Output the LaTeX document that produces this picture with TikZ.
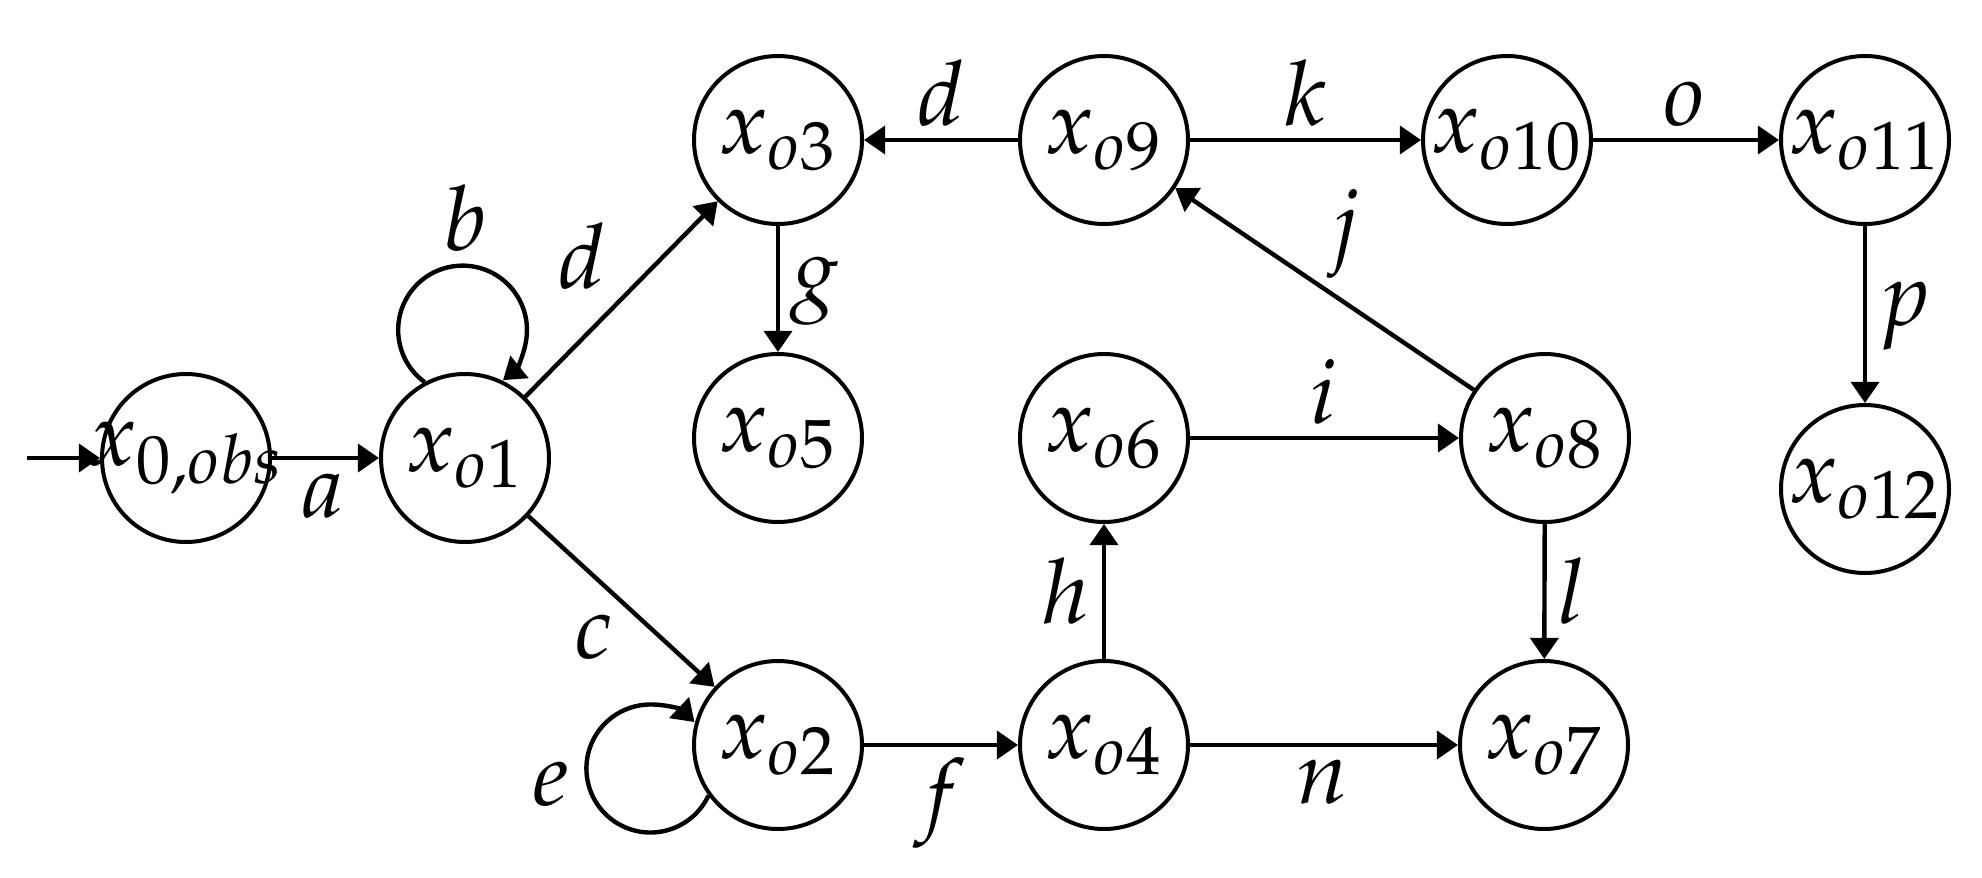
\documentclass[tikz,border=0pt]{standalone}
\usepackage{mathpazo}
\usetikzlibrary{arrows.meta}
\begin{document}
\begin{tikzpicture}[x=0.25pt,y=-0.25pt,
  state/.style={circle,draw,line width=1pt,minimum size=42pt,inner sep=0pt,
    font=\fontsize{22.5pt}{27pt}\selectfont},
  lab/.style={anchor=base,inner sep=0pt,font=\fontsize{22.5pt}{27pt}\selectfont},
  edge/.style={line width=1.1pt,-{Triangle[length=5.3pt,width=7pt]}}]
\useasboundingbox (0,0) rectangle (1982,878);
% states
\node[state] (x0)  at (186,458)  {\makebox[0pt]{$x_{0,obs}$}};
\node[state] (x1)  at (465,458)  {\makebox[0pt]{$x_{o1}$}};
\node[state] (x2)  at (778,745)  {\makebox[0pt]{$x_{o2}$}};
\node[state] (x3)  at (778,140)  {\makebox[0pt]{$x_{o3}$}};
\node[state] (x4)  at (1104,745) {\makebox[0pt]{$x_{o4}$}};
\node[state] (x5)  at (778,438)  {\makebox[0pt]{$x_{o5}$}};
\node[state] (x6)  at (1104,438) {\makebox[0pt]{$x_{o6}$}};
\node[state] (x7)  at (1544,745) {\makebox[0pt]{$x_{o7}$}};
\node[state] (x8)  at (1545,438) {\makebox[0pt]{$x_{o8}$}};
\node[state] (x9)  at (1104,140) {\makebox[0pt]{$x_{o9}$}};
\node[state] (x10) at (1507,140) {\makebox[0pt]{$x_{o10}$}};
\node[state] (x11) at (1865,140) {\makebox[0pt]{$x_{o11}$}};
\node[state] (x12) at (1865,489) {\makebox[0pt]{$x_{o12}$}};
\coordinate (start) at (27,458);
% edges
\draw[edge] (start) -- (x0);
\draw[edge] (x0) -- (x1);
\draw[edge] (x1.118) arc[start angle=233.9, end angle=-51.1, radius=16.1pt];
\draw[edge] (x1) -- (x3);
\draw[edge] (x1) -- (x2);
\draw[edge] (x2.216) arc[start angle=-25, end angle=-313.5, radius=16pt];
\draw[edge] (x3) -- (x5);
\draw[edge] (x9) -- (x3);
\draw[edge] (x2) -- (x4);
\draw[edge] (x4) -- (x6);
\draw[edge] (x6) -- (x8);
\draw[edge] (x8) -- (x9);
\draw[edge] (x8) -- (x7);
\draw[edge] (x4) -- (x7);
\draw[edge] (x9) -- (x10);
\draw[edge] (x10) -- (x11);
\draw[edge] (x11) -- (x12);
% labels
\node[lab] (la) at (323,517) {$a$};
\node[lab] (lb) at (465,250) {$b$};
\node[lab] (lc) at (594,658) {$c$};
\node[lab] (ld1) at (582,288) {$d$};
\node[lab] (ld2) at (941,125) {$d$};
\node[lab] (le) at (551,805) {$e$};
\node[lab] (lf) at (940,823) {$f$};
\node[lab] (lg) at (815,300) {$g$};
\node[lab] (lh) at (1066,623) {$h$};
\node[lab] (li) at (1324,423) {$i$};
\node[lab] (lj) at (1344,253) {$j$};
\node[lab] (lk) at (1306,125) {$k$};
\node[lab] (ll) at (1572,623) {$l$};
\node[lab] (ln) at (1323,803) {$n$};
\node[lab] (lo) at (1685,125) {$o$};
\node[lab] (lp) at (1905,325) {$p$};
\end{tikzpicture}
\end{document}
